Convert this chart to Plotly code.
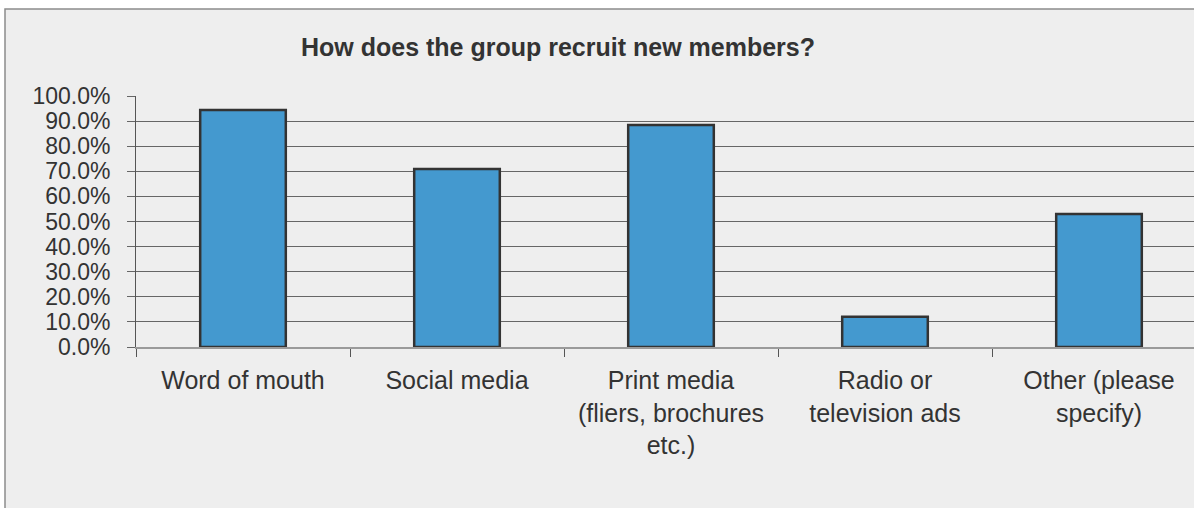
import plotly.graph_objects as go

# Survey results: share of groups using each recruitment channel
categories = [
    "Word of mouth",
    "Social media",
    "Print media<br>(fliers, brochures<br>etc.)",
    "Radio or<br>television ads",
    "Other (please<br>specify)",
]
shares = [0.944, 0.709, 0.884, 0.121, 0.530]

title_text = "How does the group recruit new members?"

W, H = 1194, 508
M_L, M_R, M_T, M_B = 136, 0, 96, 161
plot_w = W - M_L - M_R
plot_h = H - M_T - M_B


def px_x(px):
    return (px - M_L) / plot_w


def px_y(py):
    return (H - M_B - py) / plot_h


text_col = "#333333"

fig = go.Figure(
    go.Bar(
        x=categories,
        y=shares,
        width=0.4,
        marker=dict(color="#4499cf", line=dict(color="#333333", width=2.5)),
        hoverinfo="skip",
    )
)

fig.update_layout(
    width=W,
    height=H,
    margin=dict(l=M_L, r=M_R, t=M_T, b=M_B, pad=0),
    paper_bgcolor="white",
    plot_bgcolor="rgba(0,0,0,0)",
    showlegend=False,
    font=dict(family="Liberation Sans, Arial, sans-serif", color=text_col),
    title=dict(
        text=title_text,
        x=558 / W,
        xanchor="center",
        y=1 - 47 / H,
        yanchor="middle",
        xref="container",
        yref="container",
        font=dict(size=25, color=text_col, weight=600),
    ),
    shapes=[
        dict(
            type="rect",
            xref="paper",
            yref="paper",
            x0=px_x(5),
            x1=px_x(W + 20),
            y0=px_y(H + 20),
            y1=px_y(9),
            fillcolor="#eeeeee",
            line=dict(color="#8c8c8c", width=1.5),
            layer="below",
        )
    ],
)

fig.update_xaxes(
    type="category",
    range=[-0.5, -0.5 + plot_w / 214.0],
    tickson="boundaries",
    ticks="outside",
    ticklen=8,
    tickcolor="#555555",
    tickfont=dict(size=25, color=text_col),
    ticklabelstandoff=10,
    showgrid=False,
    showline=True,
    linecolor="#9a9a9a",
    linewidth=2,
    zeroline=False,
    fixedrange=True,
)

fig.update_yaxes(
    range=[0, 1],
    dtick=0.1,
    tick0=0,
    tickformat=".1%",
    ticks="outside",
    ticklen=8,
    tickcolor="#666666",
    tickfont=dict(size=23, color=text_col),
    ticklabelstandoff=12,
    showgrid=True,
    gridcolor="#666666",
    gridwidth=1,
    showline=True,
    linecolor="#555555",
    linewidth=1,
    zeroline=False,
    fixedrange=True,
)

fig.write_html("out.html", config=dict(displayModeBar=False))
